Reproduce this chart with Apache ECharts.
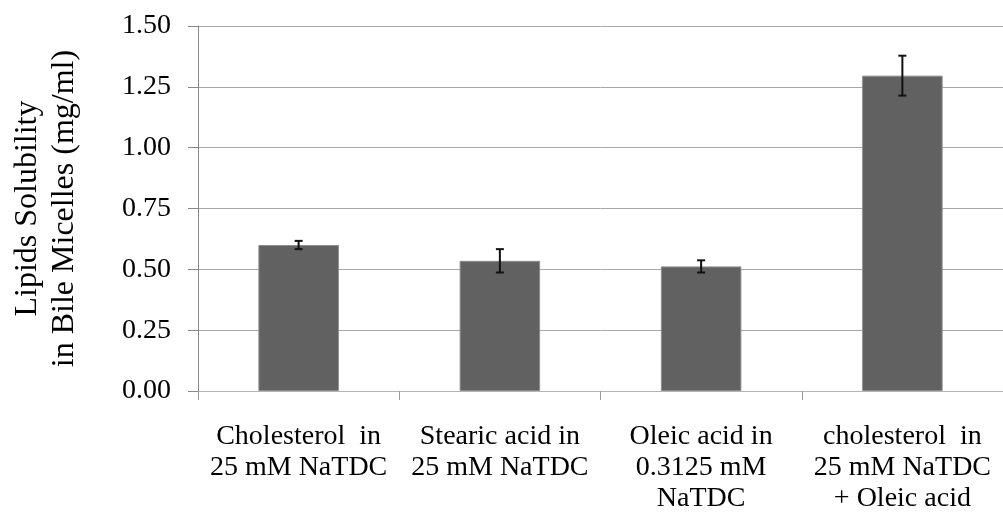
<!DOCTYPE html>
<html>
<head>
<meta charset="utf-8">
<script src="https://cdn.jsdelivr.net/npm/echarts@6/dist/echarts.min.js"></script>
<style>
  html, body { margin: 0; padding: 0; background: #fff; }
  #chart { width: 1003px; height: 516px; }
</style>
</head>
<body>
<div id="chart"></div>
<script>
// Lipid solubility in bile micelles, mean with error (mg/ml)
const categories = [
  'Cholesterol  in\n25 mM NaTDC',
  'Stearic acid in\n25 mM NaTDC',
  'Oleic acid in\n0.3125 mM\nNaTDC',
  'cholesterol  in\n25 mM NaTDC\n+ Oleic acid'
];
const solubility = [0.600, 0.535, 0.512, 1.296];
const errors = [0.017, 0.048, 0.025, 0.082];
const yTicks = [0, 0.25, 0.5, 0.75, 1.0, 1.25, 1.5];

const serif = '"Liberation Serif", "Times New Roman", serif';

// error bar ranges [category index, low, high]
const errorRanges = solubility.map((v, i) => [i, v - errors[i], v + errors[i]]);

const chart = echarts.init(document.getElementById('chart'));

chart.setOption({
  animation: false,
  backgroundColor: '#ffffff',
  grid: { left: 198, right: 0, top: 26, bottom: 125, containLabel: false },
  xAxis: {
    type: 'category',
    data: categories,
    axisLine: { lineStyle: { color: '#b4b4b4', width: 1 } },
    axisTick: { show: true, alignWithLabel: false, length: 9, lineStyle: { color: '#9a9a9a' } },
    axisLabel: {
      interval: 0,
      margin: 30,
      fontFamily: serif,
      fontSize: 28,
      lineHeight: 31,
      color: '#000000',
      align: 'center'
    }
  },
  yAxis: {
    type: 'value',
    min: yTicks[0],
    max: yTicks[yTicks.length - 1],
    interval: 0.25,
    name: 'Lipids Solubility\nin Bile Micelles (mg/ml)',
    nameLocation: 'middle',
    nameGap: 115,
    nameTextStyle: {
      fontFamily: serif,
      fontSize: 32,
      lineHeight: 37,
      color: '#000000',
      align: 'center'
    },
    axisLine: { show: true, lineStyle: { color: '#888888', width: 1 } },
    axisTick: { show: true, length: 10, lineStyle: { color: '#888888' } },
    axisLabel: {
      margin: 27,
      fontFamily: serif,
      fontSize: 28,
      color: '#000000',
      formatter: v => v.toFixed(2)
    },
    splitLine: { show: true, lineStyle: { color: '#a8a8a8', width: 1 } }
  },
  series: [
    {
      type: 'bar',
      data: solubility,
      barWidth: '40%',
      itemStyle: { color: '#616161', borderColor: '#8c8c8c', borderWidth: 1 },
      z: 2
    },
    {
      type: 'custom',
      data: errorRanges,
      z: 5,
      renderItem: function (params, api) {
        const idx = api.value(0);
        const lo = api.coord([idx, api.value(1)]);
        const hi = api.coord([idx, api.value(2)]);
        const cap = 4;
        const style = { stroke: '#111111', lineWidth: 2 };
        return {
          type: 'group',
          children: [
            { type: 'line', shape: { x1: lo[0], y1: lo[1], x2: hi[0], y2: hi[1] }, style },
            { type: 'line', shape: { x1: hi[0] - cap, y1: hi[1], x2: hi[0] + cap, y2: hi[1] }, style },
            { type: 'line', shape: { x1: lo[0] - cap, y1: lo[1], x2: lo[0] + cap, y2: lo[1] }, style }
          ]
        };
      }
    }
  ]
});
</script>
</body>
</html>
